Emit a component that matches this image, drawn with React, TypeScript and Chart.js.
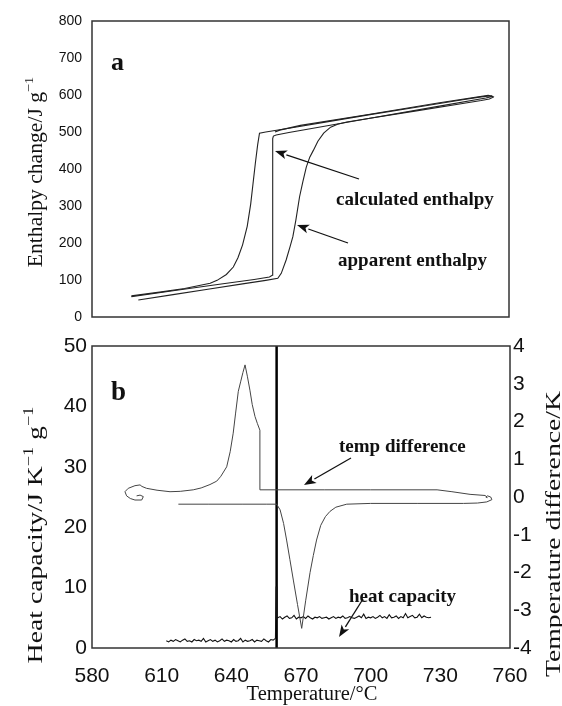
import React, { useEffect, useRef } from "react";
import { Chart, registerables } from "chart.js";

Chart.register(...registerables);

// ---------- shared axis ----------
const T_MIN = 580;
const T_MAX = 760;
const T_STEP = 30;

// ---------- panel a : enthalpy ----------
const H_MIN = 0;
const H_MAX = 800;
const H_STEP = 100;

// apparent enthalpy (heating then cooling loop)
const appT = [600, 615, 630, 645, 655, 660.2, 661.7, 663.8, 665.5, 666.7, 668, 669.6, 671, 672.5, 674, 675.6, 677.5, 680, 683, 686, 690, 700, 720, 740, 748, 751.5, 753.2, 752.5, 748, 740, 720, 700, 680, 665, 655, 652.3, 651.5, 650.5, 649.5, 648.5, 647, 645, 643, 641, 638, 634, 631, 620, 610, 597];
const appH = [46, 60.5, 75, 89.5, 99, 104.5, 118, 154, 190, 217, 262, 325, 365, 405, 432, 451, 475, 497, 513, 521, 527, 537, 557, 577, 585, 589, 594, 598, 595, 587, 567, 547, 526, 510, 500, 497, 465, 415, 360, 305, 245, 195, 160, 135, 115, 99, 91, 77, 68, 57];

// calculated enthalpy
const calcT = [597, 615, 635, 650, 656.6, 657.8, 658, 658, 658.3, 659.5, 665, 700, 730, 750, 752.8, 751, 730, 700, 670, 661, 659];
const calcH = [55, 71, 88.5, 101.5, 108, 113, 200, 482, 489, 492, 498.5, 537, 570, 592, 596, 599, 579, 548, 518, 505, 500];

// ---------- panel b ----------
const CP_MIN = 0;
const CP_MAX = 50;
const CP_STEP = 10;
const DT_MIN = -4;
const DT_MAX = 4;
const DT_STEP = 1;

// temperature difference (right axis)
const tdT = [617.2, 630, 645, 655, 659.5, 661, 662.5, 663.8, 665.2, 666.7, 668.5, 670.3, 672, 673.9, 675.3, 676.7, 678.5, 680.5, 682.5, 685, 689.7, 700, 720, 740, 746, 750, 752.2, 751.7, 750.3, 749.6, 750.2, 749.4, 742.8, 735, 728.6, 700, 680, 660, 652.3, 652.3, 651.2, 650.2, 649, 648, 646.9, 645.9, 645, 644, 643, 641.8, 640.8, 639.5, 638, 635.5, 633.7, 630.8, 627, 623.6, 618, 613.6, 608, 603.5, 601.5, 600.7, 598.5, 595.6, 594.2, 594.9, 596.5, 598.5, 601.4, 602.1, 600.7, 599.2];
const tdV = [-0.19, -0.19, -0.19, -0.19, -0.19, -0.34, -0.7, -1.14, -1.65, -2.2, -2.85, -3.48, -2.75, -2.0, -1.55, -1.14, -0.75, -0.52, -0.38, -0.27, -0.19, -0.17, -0.17, -0.17, -0.16, -0.13, -0.07, 0.0, 0.03, 0.0, -0.02, 0.04, 0.07, 0.14, 0.19, 0.19, 0.19, 0.19, 0.19, 1.77, 1.95, 2.13, 2.45, 2.83, 3.2, 3.5, 3.3, 3.05, 2.8, 2.2, 1.69, 1.2, 0.8, 0.55, 0.42, 0.33, 0.24, 0.19, 0.15, 0.14, 0.18, 0.23, 0.28, 0.32, 0.3, 0.23, 0.14, 0.03, -0.04, -0.08, -0.08, 0.01, 0.05, 0.03];

// heat capacity (left axis)
const hcT = [612, 613, 614, 615, 616, 617, 618, 619, 620, 621, 622, 623, 624, 625, 626, 627, 628, 629, 630, 631, 632, 633, 634, 635, 636, 637, 638, 639, 640, 641, 642, 643, 644, 645, 646, 647, 648, 649, 650, 651, 652, 653, 654, 655, 656, 657, 658, 659, 659.3, 659.6, 660, 661, 662, 663, 664, 665, 666, 667, 668, 669, 670, 671, 672, 673, 674, 675, 676, 677, 678, 679, 680, 681, 682, 683, 684, 685, 686, 687, 688, 689, 690, 691, 692, 693, 694, 695, 696, 697, 698, 699, 700, 701, 702, 703, 704, 705, 706, 707, 708, 709, 710, 711, 712, 713, 714, 715, 716, 717, 718, 719, 720, 721, 722, 723, 724, 725, 726];
const hcV = [1.2, 1.0, 1.3, 1.1, 1.4, 1.2, 1.0, 1.3, 1.5, 1.1, 1.2, 1.0, 1.4, 1.2, 1.3, 1.1, 1.6, 1.0, 1.2, 1.4, 1.1, 1.3, 1.0, 1.2, 1.5, 1.1, 1.3, 1.2, 1.0, 1.4, 1.1, 1.2, 1.6, 1.0, 1.3, 1.1, 1.2, 1.4, 1.0, 1.3, 1.2, 1.1, 1.5, 1.2, 1.0, 1.4, 1.3, 1.6, 10.2, 4.9,
  5.0, 5.2, 4.8, 5.1, 5.3, 4.9, 5.0, 5.4, 4.8, 5.1,
  5.0, 5.2, 4.9, 5.3, 5.0, 4.8, 5.1, 5.0, 5.2, 4.9,
  5.0, 5.1, 4.8, 5.0, 5.2, 4.9, 5.1, 5.0, 5.3, 4.9,
  5.0, 5.2, 5.0, 4.9, 5.1, 5.3, 5.0, 5.6, 4.9, 5.1,
  5.0, 5.2, 4.9, 5.1, 5.4, 5.0, 5.2, 4.9, 5.5, 5.0,
  5.1, 5.3, 4.9, 5.2, 5.0, 5.7, 5.0, 5.2, 5.4, 5.0,
  5.1, 5.6, 5.0, 5.3, 5.1, 5.0, 5.1];

// vertical marker line (transition temperature)
const markerT = 659.5;

const SANS = "'Liberation Sans', Arial, sans-serif";
const SERIF = "'Liberation Serif', 'Times New Roman', serif";
const INK = "#111";

const toPts = (xs: number[], ys: number[]) => xs.map((x, i) => ({ x, y: ys[i] }));

type Part = { t: string; sup?: boolean };

function drawRich(
  ctx: CanvasRenderingContext2D,
  parts: Part[],
  size: number,
  weight: string,
  x: number,
  y: number,
  opts: { rotate?: boolean; stretch?: number; align?: "left" | "center" }
) {
  ctx.save();
  ctx.translate(x, y);
  if (opts.rotate) ctx.rotate(-Math.PI / 2);
  ctx.scale(opts.stretch ?? 1, 1);
  const supSize = size * 0.66;
  const widths = parts.map((p) => {
    ctx.font = `${weight} ${p.sup ? supSize : size}px ${SERIF}`;
    return ctx.measureText(p.t).width;
  });
  const total = widths.reduce((a, b) => a + b, 0);
  let cx = opts.align === "left" ? 0 : -total / 2;
  ctx.fillStyle = INK;
  ctx.textAlign = "left";
  ctx.textBaseline = "alphabetic";
  parts.forEach((p, i) => {
    ctx.font = `${weight} ${p.sup ? supSize : size}px ${SERIF}`;
    ctx.fillText(p.t, cx, p.sup ? -size * 0.45 : 0);
    cx += widths[i];
  });
  ctx.restore();
}

function drawArrow(ctx: CanvasRenderingContext2D, x1: number, y1: number, x2: number, y2: number) {
  const ang = Math.atan2(y2 - y1, x2 - x1);
  const len = 12;
  const hw = 4.5;
  const bx = x2 - Math.cos(ang) * len;
  const by = y2 - Math.sin(ang) * len;
  ctx.save();
  ctx.strokeStyle = INK;
  ctx.fillStyle = INK;
  ctx.lineWidth = 1.3;
  ctx.beginPath();
  ctx.moveTo(x1, y1);
  ctx.lineTo(bx, by);
  ctx.stroke();
  ctx.beginPath();
  ctx.moveTo(x2, y2);
  ctx.lineTo(bx + Math.sin(ang) * hw, by - Math.cos(ang) * hw);
  ctx.lineTo(bx + Math.cos(ang) * 3, by + Math.sin(ang) * 3);
  ctx.lineTo(bx - Math.sin(ang) * hw, by + Math.cos(ang) * hw);
  ctx.closePath();
  ctx.fill();
  ctx.restore();
}

function frame(chart: any) {
  const { ctx, chartArea: a } = chart;
  ctx.save();
  ctx.strokeStyle = "#333";
  ctx.lineWidth = 1.5;
  ctx.strokeRect(a.left, a.top, a.right - a.left, a.bottom - a.top);
  ctx.restore();
}

const decoA = {
  id: "decoA",
  afterDraw(chart: any) {
    const ctx = chart.ctx as CanvasRenderingContext2D;
    frame(chart);
    drawRich(ctx, [{ t: "Enthalpy change/J g" }, { t: "\u22121", sup: true }], 20, "normal", 42, 172, { rotate: true, stretch: 1.08 });
    drawRich(ctx, [{ t: "a" }], 26, "bold", 111, 70, { align: "left" });
    drawRich(ctx, [{ t: "calculated enthalpy" }], 19, "bold", 336, 205, { align: "left" });
    drawRich(ctx, [{ t: "apparent enthalpy" }], 19, "bold", 338, 266, { align: "left" });
    drawArrow(ctx, 359, 179, 275, 151);
    drawArrow(ctx, 348, 243, 297, 225);
  },
};

const decoB = {
  id: "decoB",
  afterDraw(chart: any) {
    const ctx = chart.ctx as CanvasRenderingContext2D;
    frame(chart);
    drawRich(ctx, [{ t: "Heat capacity/J K" }, { t: "\u22121", sup: true }, { t: " g" }, { t: "\u22121", sup: true }], 21, "normal", 42, 535, { rotate: true, stretch: 1.32 });
    drawRich(ctx, [{ t: "Temperature difference/K" }], 21, "normal", 560, 534, { rotate: true, stretch: 1.32 });
    drawRich(ctx, [{ t: "Temperature/\u00B0C" }], 20.5, "normal", 312, 700, {});
    drawRich(ctx, [{ t: "b" }], 27, "bold", 111, 400, { align: "left" });
    drawRich(ctx, [{ t: "temp difference" }], 19, "bold", 339, 452, { align: "left" });
    drawRich(ctx, [{ t: "heat capacity" }], 19, "bold", 349, 602, { align: "left" });
    drawArrow(ctx, 351, 458, 304, 485);
    drawArrow(ctx, 363, 599, 339, 637);
  },
};

const lineDs = (label: string, data: any[], color: string, width: number, axis?: string) => ({
  label,
  data,
  showLine: true,
  borderColor: color,
  borderWidth: width,
  pointRadius: 0,
  fill: false,
  tension: 0,
  ...(axis ? { yAxisID: axis } : {}),
});

export default function App() {
  const refA = useRef<HTMLCanvasElement>(null);
  const refB = useRef<HTMLCanvasElement>(null);

  useEffect(() => {
    const chartA = new Chart(refA.current!, {
      type: "scatter",
      data: {
        datasets: [
          lineDs("calculated enthalpy", toPts(calcT, calcH), "#222", 1.1),
          lineDs("apparent enthalpy", toPts(appT, appH), "#222", 1.1),
        ],
      },
      options: {
        responsive: false,
        animation: false,
        layout: { padding: { left: 0, top: 21, right: 53, bottom: 389 } },
        plugins: { legend: { display: false }, tooltip: { enabled: false } },
        scales: {
          x: { type: "linear", min: T_MIN, max: T_MAX, display: false },
          y: {
            type: "linear",
            min: H_MIN,
            max: H_MAX,
            ticks: { stepSize: H_STEP, font: { family: SANS, size: 14 }, color: INK, padding: 10 },
            grid: { display: false, drawTicks: false },
            border: { display: false },
            afterFit: (s: any) => {
              s.width = 92;
            },
          },
        },
      },
      plugins: [decoA],
    } as any);

    const chartB = new Chart(refB.current!, {
      type: "scatter",
      data: {
        datasets: [
          lineDs("temp difference", toPts(tdT, tdV), "#444", 1, "y2"),
          lineDs("heat capacity", toPts(hcT, hcV), "#111", 1.1, "y"),
          lineDs("marker", [{ x: markerT, y: CP_MIN }, { x: markerT, y: CP_MAX }], "#000", 2.5, "y"),
        ],
      },
      options: {
        responsive: false,
        animation: false,
        layout: { padding: { left: 0, top: 346, right: 0, bottom: 0 } },
        plugins: { legend: { display: false }, tooltip: { enabled: false } },
        scales: {
          x: {
            type: "linear",
            min: T_MIN,
            max: T_MAX,
            ticks: { stepSize: T_STEP, font: { family: SANS, size: 21 }, color: INK, padding: 16, maxRotation: 0 },
            grid: { display: false, drawTicks: false },
            border: { display: false },
            afterFit: (s: any) => {
              s.height = 58;
            },
          },
          y: {
            type: "linear",
            position: "left",
            min: CP_MIN,
            max: CP_MAX,
            ticks: { stepSize: CP_STEP, font: { family: SANS, size: 21 }, color: INK, padding: 5 },
            grid: { display: false, drawTicks: false },
            border: { display: false },
            afterFit: (s: any) => {
              s.width = 92;
            },
          },
          y2: {
            type: "linear",
            position: "right",
            min: DT_MIN,
            max: DT_MAX,
            ticks: { stepSize: DT_STEP, font: { family: SANS, size: 21 }, color: INK, padding: 3 },
            grid: { display: false, drawTicks: false },
            border: { display: false },
            afterFit: (s: any) => {
              s.width = 52;
            },
          },
        },
      },
      plugins: [decoB],
    } as any);

    return () => {
      chartA.destroy();
      chartB.destroy();
    };
  }, []);

  const cs: React.CSSProperties = { position: "absolute", left: 0, top: 0 };
  return (
    <div style={{ position: "absolute", left: 0, top: 0, width: 562, height: 706, background: "#fff" }}>
      <canvas ref={refA} width={562} height={706} style={cs} />
      <canvas ref={refB} width={562} height={706} style={cs} />
    </div>
  );
}
